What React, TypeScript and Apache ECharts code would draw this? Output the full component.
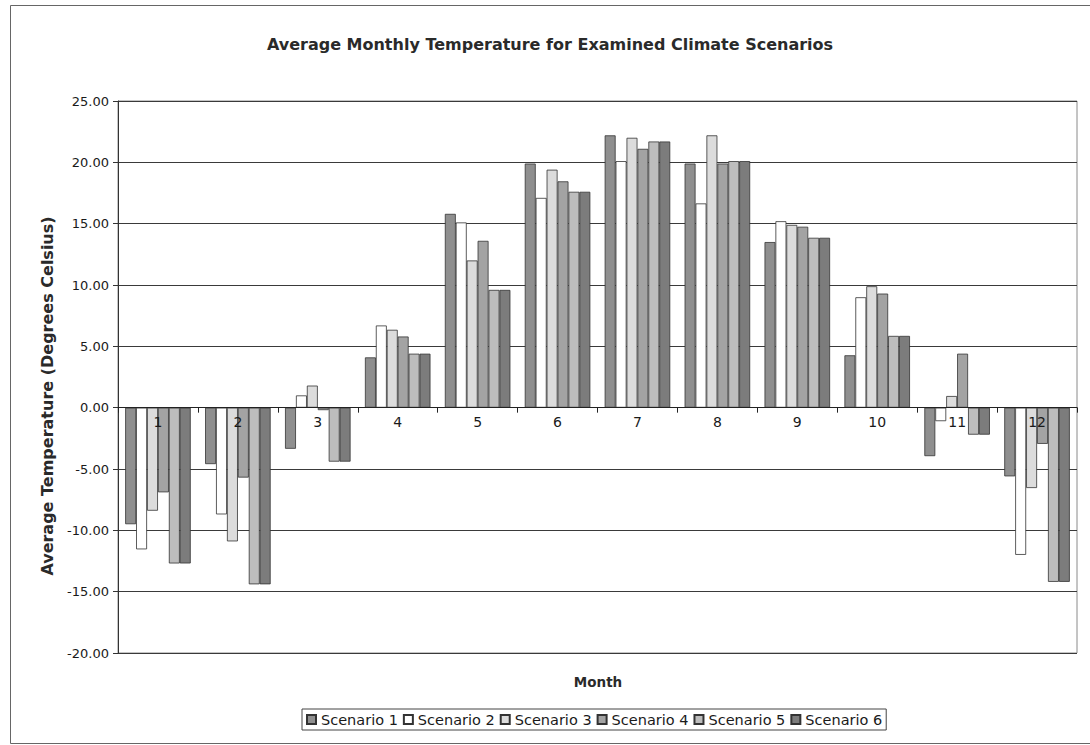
import React, { useEffect, useRef } from "react";
import * as echarts from "echarts";

const months = ["1", "2", "3", "4", "5", "6", "7", "8", "9", "10", "11", "12"];
const scenarioNames = ["Scenario 1", "Scenario 2", "Scenario 3", "Scenario 4", "Scenario 5", "Scenario 6"];
const scenario1 = [-9.5, -4.6, -3.35, 4.1, 15.8, 19.9, 22.2, 19.9, 13.5, 4.27, -3.95, -5.6];
const scenario2 = [-11.55, -8.7, 1.0, 6.7, 15.1, 17.1, 20.1, 16.65, 15.2, 9.0, -1.1, -12.0];
const scenario3 = [-8.4, -10.9, 1.8, 6.35, 12.0, 19.4, 22.0, 22.2, 14.9, 9.9, 0.95, -6.55];
const scenario4 = [-6.9, -5.7, -0.2, 5.8, 13.6, 18.45, 21.1, 19.9, 14.75, 9.3, 4.4, -2.95];
const scenario5 = [-12.7, -14.4, -4.4, 4.4, 9.6, 17.6, 21.7, 20.1, 13.85, 5.85, -2.2, -14.2];
const scenario6 = [-12.7, -14.4, -4.4, 4.4, 9.6, 17.6, 21.7, 20.1, 13.85, 5.85, -2.2, -14.2];
const seriesValues = [scenario1, scenario2, scenario3, scenario4, scenario5, scenario6];
const seriesColors = ["#8f8f8f", "#ffffff", "#dcdcdc", "#a3a3a3", "#bdbdbd", "#7c7c7c"];

const FONT = "DejaVu Sans";
const Y_MIN = -20;
const Y_MAX = 25;
const GRID_TOP = 101;
const GRID_BOTTOM = 92;
const CHART_H = 745;

export default function App() {
  const ref = useRef<HTMLDivElement>(null);
  useEffect(() => {
    if (!ref.current) return;
    const chart = echarts.init(ref.current, undefined, { renderer: "svg" });
    const plotH = CHART_H - GRID_TOP - GRID_BOTTOM;
    const zeroFromBottom = (plotH * (0 - Y_MIN)) / (Y_MAX - Y_MIN);
    const option: any = {
      animation: false,
      backgroundColor: "#ffffff",
      title: {
        text: "Average Monthly Temperature for Examined Climate Scenarios",
        left: 545,
        textAlign: "center",
        top: 31,
        textStyle: { fontFamily: FONT, fontSize: 16, fontWeight: "bold", color: "#2a2a2a" },
      },
      grid: {
        left: 118,
        right: 13,
        top: GRID_TOP,
        bottom: GRID_BOTTOM,
        show: true,
        borderColor: "#8a8a8a",
        borderWidth: 1,
      },
      legend: {
        data: scenarioNames,
        left: 302,
        top: 709,
        itemWidth: 9,
        itemHeight: 9,
        itemGap: 5,
        padding: [3, 4, 3, 4],
        borderColor: "#444",
        borderWidth: 1,
        icon: "rect",
        textStyle: { fontFamily: FONT, fontSize: 14.5, color: "#1a1a1a" },
      },
      xAxis: {
        type: "category",
        data: months,
        z: 10,
        position: "bottom",
        offset: -zeroFromBottom,
        axisLine: { onZero: false, lineStyle: { color: "#222", width: 1 } },
        axisTick: { show: true, length: 5, lineStyle: { color: "#222" } },
        axisLabel: { fontFamily: FONT, fontSize: 14, color: "#1a1a1a", margin: 7 },
        splitLine: { show: false },
      },
      yAxis: {
        type: "value",
        min: Y_MIN,
        max: Y_MAX,
        interval: 5,
        axisLine: { show: true, lineStyle: { color: "#333" } },
        axisTick: { show: true, length: 5, lineStyle: { color: "#333" } },
        axisLabel: {
          fontFamily: FONT,
          fontSize: 13,
          color: "#1a1a1a",
          margin: 9,
          formatter: (v: number) => v.toFixed(2),
        },
        splitLine: { show: true, lineStyle: { color: "#3a3a3a", width: 1 } },
      },
      graphic: [
        {
          type: "rect",
          silent: true,
          shape: { x: 10.5, y: 5.5, width: 1100, height: 738 },
          style: { fill: "none", stroke: "#666", lineWidth: 1 },
        },
        {
          type: "text",
          x: 598,
          y: 675,
          style: {
            text: "Month",
            fontFamily: FONT,
            fontSize: 13.5,
            fontWeight: "bold",
            fill: "#2a2a2a",
            textAlign: "center",
          },
        },
        {
          type: "text",
          x: 47,
          y: 396,
          rotation: Math.PI / 2,
          style: {
            text: "Average Temperature (Degrees Celsius)",
            fontFamily: FONT,
            fontSize: 16,
            fontWeight: "bold",
            fill: "#2a2a2a",
            textAlign: "center",
            textVerticalAlign: "middle",
          },
        },
      ],
      series: scenarioNames.map((name, i) => ({
        name,
        type: "bar",
        data: seriesValues[i],
        barGap: "0%",
        barCategoryGap: "18%",
        itemStyle: { color: seriesColors[i], borderColor: "#333", borderWidth: 0.8 },
      })),
    };
    chart.setOption(option);
    return () => chart.dispose();
  }, []);
  return (
    <div
      ref={ref}
      style={{ position: "absolute", left: 0, top: 0, width: 1090, height: 745 }}
    />
  );
}
